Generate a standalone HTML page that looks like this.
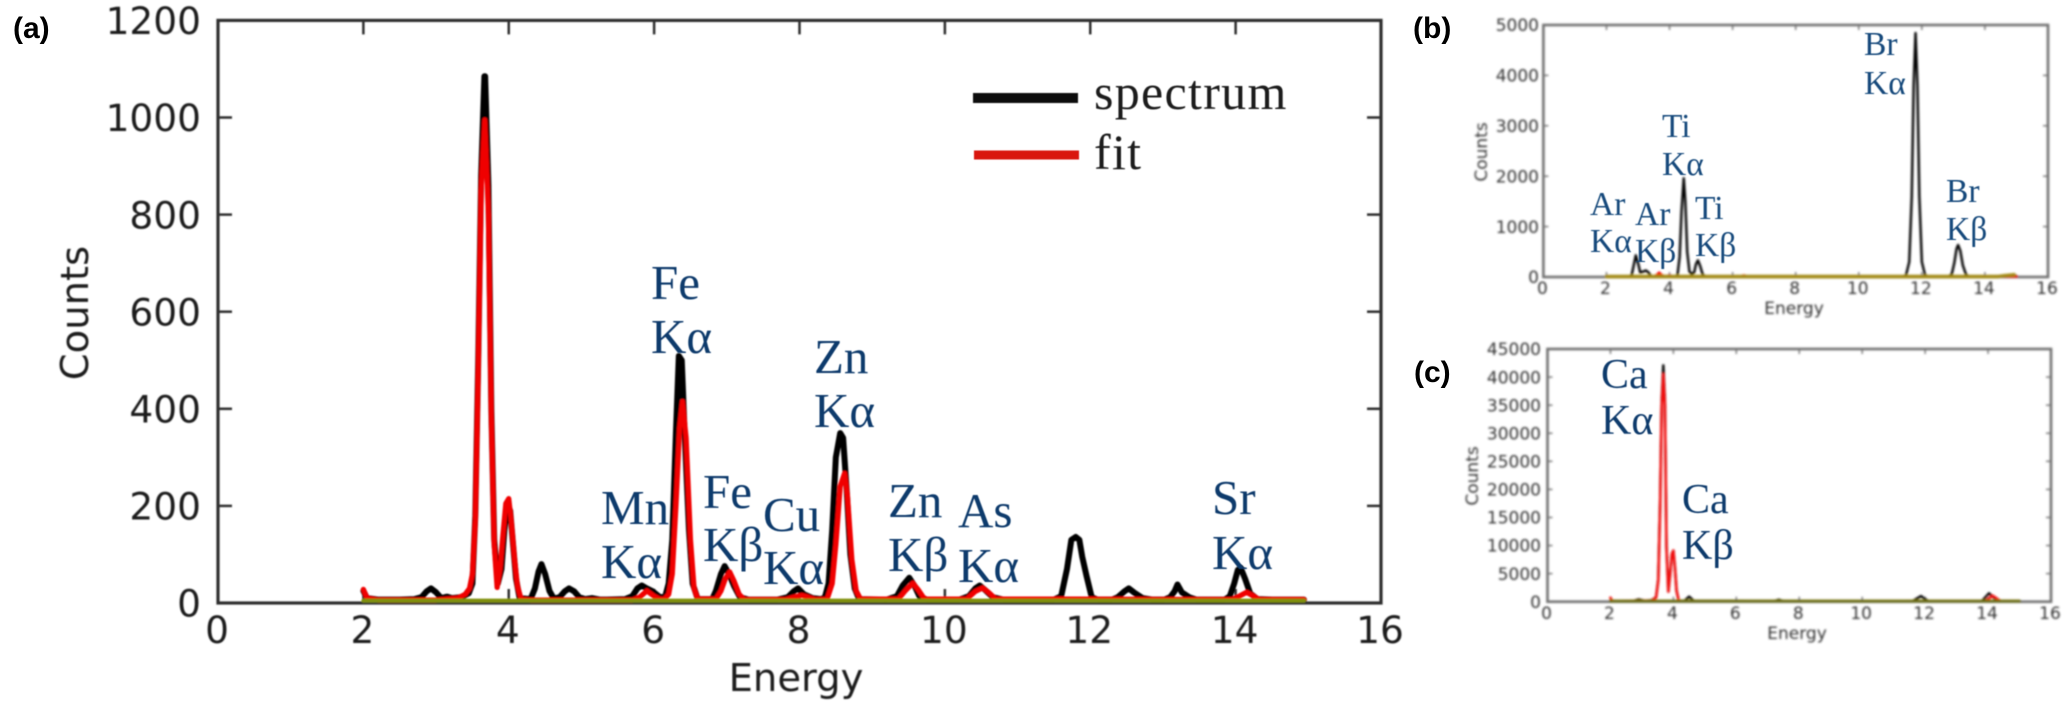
<!DOCTYPE html>
<html lang="en">
<head>
<meta charset="utf-8">
<title>X-ray fluorescence spectra</title>
<style>
html,body{margin:0;padding:0;background:#fff;width:2067px;height:705px;overflow:hidden}
svg{display:block}
.tick{font-family:"DejaVu Sans",sans-serif}
.ann{font-family:"Liberation Serif",serif}
.plab{font-family:"Liberation Sans",sans-serif;font-weight:700;font-size:30px;fill:#000}
</style>
</head>
<body>
<svg id="fig" xmlns="http://www.w3.org/2000/svg" width="2067" height="705" viewBox="0 0 2067 705">
<defs>
<filter id="blurA" x="-5%" y="-5%" width="110%" height="110%"><feGaussianBlur stdDeviation="0.9"/></filter>
<filter id="blurB" x="-5%" y="-5%" width="110%" height="110%"><feGaussianBlur stdDeviation="1.1"/></filter>
<filter id="blurT" x="-5%" y="-5%" width="110%" height="110%"><feGaussianBlur stdDeviation="0.6"/></filter>
</defs>
<rect width="2067" height="705" fill="#fff"/>
<g id="panelA" filter="url(#blurA)"></g>
<g id="panelB" filter="url(#blurB)"></g>
<g id="panelC" filter="url(#blurB)"></g>

<g class="plab">
<text x="13" y="38">(a)</text>
<text x="1413" y="38">(b)</text>
<text x="1414" y="382">(c)</text>
</g>

<g filter="url(#blurT)">
<line x1="973" y1="98" x2="1078" y2="98" stroke="#0c0c0c" stroke-width="10"/>
<line x1="974" y1="155" x2="1079" y2="155" stroke="#d9150f" stroke-width="9"/>
<text class="ann" x="1094" y="109" font-size="50" letter-spacing="1.3" fill="#1c1c1c">spectrum</text>
<text class="ann" x="1094" y="169" font-size="50" letter-spacing="1.3" fill="#1c1c1c">fit</text>
</g>

<g class="ann" font-size="49" fill="#0d3a6c" filter="url(#blurT)">
<text x="651" y="299">Fe</text>
<text x="651" y="353">Kα</text>
<text x="814" y="373">Zn</text>
<text x="814" y="427">Kα</text>
<text x="601" y="524">Mn</text>
<text x="601" y="578">Kα</text>
<text x="703" y="508">Fe</text>
<text x="703" y="561">Kβ</text>
<text x="763" y="531">Cu</text>
<text x="763" y="584">Kα</text>
<text x="888" y="517">Zn</text>
<text x="888" y="571">Kβ</text>
<text x="958" y="527">As</text>
<text x="958" y="582">Kα</text>
<text x="1212" y="514">Sr</text>
<text x="1212" y="569">Kα</text>
</g>

<g class="ann" font-size="33.5" fill="#164a7c" filter="url(#blurT)">
<text x="1864" y="55">Br</text>
<text x="1864" y="94">Kα</text>
<text x="1946" y="202">Br</text>
<text x="1946" y="240">Kβ</text>
<text x="1662" y="137">Ti</text>
<text x="1662" y="175">Kα</text>
<text x="1590" y="215">Ar</text>
<text x="1590" y="252">Kα</text>
<text x="1635" y="225">Ar</text>
<text x="1635" y="262">Kβ</text>
<text x="1695" y="219">Ti</text>
<text x="1695" y="256">Kβ</text>
</g>

<g class="ann" font-size="42" fill="#0d3a6c" filter="url(#blurT)">
<text x="1601" y="388">Ca</text>
<text x="1601" y="434">Kα</text>
<text x="1682" y="513">Ca</text>
<text x="1682" y="559">Kβ</text>
</g>
</svg>

<script>
// Shared tick labels
const energyTicks = [0, 2, 4, 6, 8, 10, 12, 14, 16];
const countTicksA = [0, 200, 400, 600, 800, 1000, 1200];
const countTicksB = [0, 1000, 2000, 3000, 4000, 5000];
const countTicksC = [0, 5000, 10000, 15000, 20000, 25000, 30000, 35000, 40000, 45000];

// Panel (a) spectrum
const aSpectrumEnergy = [2.0,2.05,2.2,2.5,2.7,2.8,2.87,2.93,3.0,3.07,3.15,3.22,3.35,3.45,3.5,3.54,3.58,3.62,3.665,3.675,3.72,3.76,3.8,3.85,3.9,3.94,3.98,4.02,4.06,4.1,4.15,4.3,4.36,4.41,4.45,4.5,4.56,4.62,4.7,4.77,4.83,4.9,4.97,5.05,5.15,5.25,5.35,5.6,5.7,5.77,5.83,5.9,5.98,6.08,6.15,6.2,6.25,6.3,6.34,6.38,6.42,6.48,6.53,6.6,6.8,6.85,6.92,6.97,7.03,7.1,7.18,7.3,7.7,7.84,7.92,7.98,8.06,8.18,8.3,8.35,8.4,8.45,8.5,8.56,8.6,8.65,8.7,8.76,8.82,9.2,9.34,9.42,9.51,9.58,9.65,9.75,10.2,10.33,10.42,10.48,10.56,10.66,10.8,11.5,11.6,11.68,11.74,11.8,11.85,11.89,11.95,12.02,12.1,12.3,12.38,12.47,12.53,12.6,12.72,12.85,13.02,13.1,13.16,13.2,13.26,13.36,13.46,13.85,13.92,13.98,14.03,14.07,14.13,14.2,14.3,14.5,14.94];
const aSpectrumCounts = [25,10,7,7,8,12,24,30,22,10,13,10,12,20,40,180,500,880,1085,1085,860,400,130,40,70,150,205,190,120,50,10,8,30,65,80,60,25,9,12,24,30,24,12,8,10,7,7,8,14,30,36,30,24,12,12,40,130,350,509,500,350,150,40,8,8,25,60,76,60,35,12,7,7,12,24,30,18,10,8,12,40,150,300,350,340,230,100,30,8,7,14,36,52,36,14,7,7,14,30,36,26,12,7,7,14,70,130,136,130,95,55,12,7,7,12,24,30,22,10,7,7,12,24,38,22,12,7,7,14,40,68,72,50,20,8,7,7];

// Panel (a) fit
const aFitEnergy = [2.0,2.05,2.2,3.0,3.3,3.4,3.46,3.5,3.54,3.58,3.62,3.67,3.72,3.76,3.8,3.84,3.88,3.92,3.96,4.0,4.04,4.08,4.12,4.17,4.3,5.7,5.8,5.9,6.0,6.08,6.14,6.2,6.25,6.3,6.35,6.39,6.44,6.5,6.55,6.6,6.85,6.92,6.98,7.04,7.1,7.17,7.24,7.8,7.92,8.03,8.12,8.22,8.38,8.45,8.5,8.56,8.62,8.66,8.72,8.78,8.84,9.36,9.46,9.56,9.64,9.72,10.3,10.42,10.52,10.6,10.7,11.8,13.95,14.05,14.15,14.25,14.33,14.94];
const aFitCounts = [28,10,6,6,10,18,30,60,170,480,850,995,800,380,120,32,70,140,205,215,160,90,35,8,6,6,12,25,14,8,8,18,60,200,360,415,340,130,30,8,8,25,50,64,45,18,7,7,12,16,12,7,8,40,120,240,267,220,90,25,8,8,26,41,26,8,8,24,31,22,8,8,7,14,22,14,7,7];

// Panel (a) background
const aBackgroundEnergy = [2.0,14.94];
const aBackgroundCounts = [5,5];

// Panel (b) spectrum
const bSpectrumEnergy = [2,2.7,2.8,2.87,2.93,3.0,3.07,3.13,3.25,3.33,3.42,3.6,3.68,3.8,4.1,4.25,4.32,4.38,4.45,4.5,4.56,4.63,4.7,4.78,4.84,4.9,4.97,5.05,5.15,11.4,11.5,11.6,11.68,11.74,11.8,11.86,11.92,12.0,12.1,12.2,12.85,12.95,13.03,13.1,13.15,13.22,13.3,13.4,13.5,15];
const bSpectrumCounts = [5,5,40,250,430,280,90,100,130,90,15,10,20,10,10,30,400,1300,1960,1500,500,110,60,90,260,330,220,50,8,10,40,300,1600,3800,4840,3800,1600,300,40,10,10,60,280,560,635,520,230,50,10,20];

// Panel (b) fit
const bFitEnergy = [2,3.5,3.6,3.67,3.74,3.85,4.0,4.1,6.25,6.36,6.45,15];
const bFitCounts = [10,10,40,85,40,10,30,10,10,30,10,10];

// Panel (b) background
const bBackgroundEnergy = [2,14.4,14.6,14.92];
const bBackgroundCounts = [8,8,25,45];

// Panel (c) spectrum
const cSpectrumEnergy = [2,2.7,2.9,3.1,3.3,3.45,3.52,3.58,3.63,3.68,3.73,3.78,3.84,3.9,3.95,4.0,4.05,4.1,4.17,4.35,4.5,4.65,7.2,7.35,7.5,11.6,11.87,12.1,13.8,14.03,14.3,15];
const cSpectrumCounts = [100,100,400,150,250,800,4000,18000,36000,42090,36000,10000,1800,5000,8500,9100,6000,2000,200,150,900,150,100,350,100,100,1000,100,100,1500,100,100];

// Panel (c) fit
const cFitEnergy = [2,2.05,2.2,3.3,3.45,3.52,3.58,3.63,3.68,3.73,3.78,3.84,3.9,3.95,4.0,4.05,4.1,4.17,4.3,13.9,14.15,14.4,15];
const cFitCounts = [700,150,100,200,700,3800,17000,35000,40500,35000,9800,1800,5000,8500,9100,6000,2000,150,100,100,1050,100,100];

// Panel (c) background
const cBackgroundEnergy = [2,15];
const cBackgroundCounts = [100,100];

const SVGNS = 'http://www.w3.org/2000/svg';

function makeScale(d0, d1, r0, r1) {
  return function (v) { return r0 + (v - d0) * (r1 - r0) / (d1 - d0); };
}

function svgEl(parent, tag) {
  const el = document.createElementNS(SVGNS, tag);
  parent.appendChild(el);
  return el;
}

function drawAxes(g, box, x, y, xTicks, yTicks, st) {
  for (const t of xTicks) {
    const px = x(t);
    const lab = svgEl(g, 'text');
    
    
    lab.setAttribute('class', 'tick');
    lab.setAttribute('x', px - 1);
    lab.setAttribute('y', st.xLabelY);
    lab.setAttribute('font-size', st.font);
    lab.setAttribute('fill', st.text);
    lab.setAttribute('text-anchor', 'middle');
    lab.textContent = t;
    for (const [a, b] of [[box.bottom, box.bottom - st.tick], [box.top, box.top + st.tick]]) {
      const m = svgEl(g, 'line');
      
      
      m.setAttribute('x1', px);
      m.setAttribute('x2', px);
      m.setAttribute('y1', a);
      m.setAttribute('y2', b);
      m.setAttribute('stroke', st.axis);
      m.setAttribute('stroke-width', st.tickW);
    }
  }
  for (const t of yTicks) {
    const py = y(t);
    const lab = svgEl(g, 'text');
    
    
    lab.setAttribute('class', 'tick');
    lab.setAttribute('x', st.yLabelX);
    lab.setAttribute('y', py + st.font * 0.365);
    lab.setAttribute('font-size', st.font);
    lab.setAttribute('fill', st.text);
    lab.setAttribute('text-anchor', 'end');
    lab.textContent = t;
    for (const [a, b] of [[box.left, box.left + st.tick], [box.right, box.right - st.tick]]) {
      const m = svgEl(g, 'line');
      
      
      m.setAttribute('x1', a);
      m.setAttribute('x2', b);
      m.setAttribute('y1', py);
      m.setAttribute('y2', py);
      m.setAttribute('stroke', st.axis);
      m.setAttribute('stroke-width', st.tickW);
    }
  }
  const frame = svgEl(g, 'rect');
  
  
  frame.setAttribute('x', box.left);
  frame.setAttribute('y', box.top);
  frame.setAttribute('width', box.right - box.left);
  frame.setAttribute('height', box.bottom - box.top);
  frame.setAttribute('fill', 'none');
  frame.setAttribute('stroke', st.axis);
  frame.setAttribute('stroke-width', st.spine);

  const xt = svgEl(g, 'text');
  
  
  xt.setAttribute('class', 'tick');
  xt.setAttribute('x', st.xTitleX);
  xt.setAttribute('y', st.xTitleY);
  xt.setAttribute('font-size', st.titleFont);
  xt.setAttribute('fill', st.text);
  xt.setAttribute('text-anchor', 'middle');
  xt.textContent = 'Energy';

  const yt = svgEl(g, 'text');
  
  
  yt.setAttribute('class', 'tick');
  yt.setAttribute('transform', 'translate(' + st.yTitleX + ',' + st.yTitleY + ') rotate(-90)');
  yt.setAttribute('font-size', st.titleFont);
  yt.setAttribute('fill', st.text);
  yt.setAttribute('text-anchor', 'middle');
  yt.textContent = 'Counts';
}

function drawLine(g, xs, ys, x, y, color, width, name) {
  const pl = svgEl(g, 'polyline');
  
  
  pl.setAttribute('points', xs.map((e, i) => x(e).toFixed(2) + ',' + y(ys[i]).toFixed(2)).join(' '));
  pl.setAttribute('fill', 'none');
  pl.setAttribute('stroke', color);
  pl.setAttribute('stroke-width', width);
  pl.setAttribute('stroke-linejoin', 'round');
  pl.setAttribute('stroke-linecap', 'round');
}

// Panel (a)
(function () {
  const g = document.getElementById('panelA');
  const box = { left: 218, right: 1381, top: 20.4, bottom: 603 };
  const x = makeScale(0, 16, box.left, box.right);
  const y = makeScale(0, 1200, box.bottom, box.top);
  drawAxes(g, box, x, y, energyTicks, countTicksA, {
    font: 37.5, titleFont: 38.5, text: '#1e1e1e', axis: '#2e2e2e', tick: 14, tickW: 2.5, spine: 3.2,
    xLabelY: 643, yLabelX: 201, xTitleX: 796, xTitleY: 691, yTitleX: 88, yTitleY: 313
  });
  drawLine(g, aSpectrumEnergy, aSpectrumCounts, x, y, '#050505', 6, 'spectrum-line-a');
  drawLine(g, aFitEnergy, aFitCounts, x, y, '#f00000', 5.2, 'fit-line-a');
  drawLine(g, aBackgroundEnergy, aBackgroundCounts, x, y, '#80900f', 4, 'background-line-a');
})();

// Panel (b)
(function () {
  const g = document.getElementById('panelB');
  const box = { left: 1543.4, right: 2048, top: 25, bottom: 277 };
  const x = makeScale(0, 16, box.left, box.right);
  const y = makeScale(0, 5000, box.bottom, box.top);
  drawAxes(g, box, x, y, energyTicks, countTicksB, {
    font: 17, titleFont: 17, text: '#333', axis: '#707070', tick: 5, tickW: 1.4, spine: 2.6,
    xLabelY: 294, yLabelX: 1539, xTitleX: 1794, xTitleY: 314, yTitleX: 1487, yTitleY: 152
  });
  drawLine(g, bSpectrumEnergy, bSpectrumCounts, x, y, '#000', 2.4, 'spectrum-line-b');
  drawLine(g, bFitEnergy, bFitCounts, x, y, '#f00000', 2.6, 'fit-line-b');
  drawLine(g, bBackgroundEnergy, bBackgroundCounts, x, y, '#a38a12', 3.6, 'background-line-b');
})();

// Panel (c)
(function () {
  const g = document.getElementById('panelC');
  const box = { left: 1547.5, right: 2051, top: 349, bottom: 601.7 };
  const x = makeScale(0, 16, box.left, box.right);
  const y = makeScale(0, 45000, box.bottom, box.top);
  drawAxes(g, box, x, y, energyTicks, countTicksC, {
    font: 17, titleFont: 17, text: '#333', axis: '#707070', tick: 5, tickW: 1.4, spine: 2.6,
    xLabelY: 619, yLabelX: 1541, xTitleX: 1797, xTitleY: 639, yTitleX: 1478, yTitleY: 476
  });
  drawLine(g, cSpectrumEnergy, cSpectrumCounts, x, y, '#000', 2.4, 'spectrum-line-c');
  drawLine(g, cFitEnergy, cFitCounts, x, y, '#f01010', 2.6, 'fit-line-c');
  drawLine(g, cBackgroundEnergy, cBackgroundCounts, x, y, '#6d6f10', 3, 'background-line-c');
})();
</script>
</body>
</html>
